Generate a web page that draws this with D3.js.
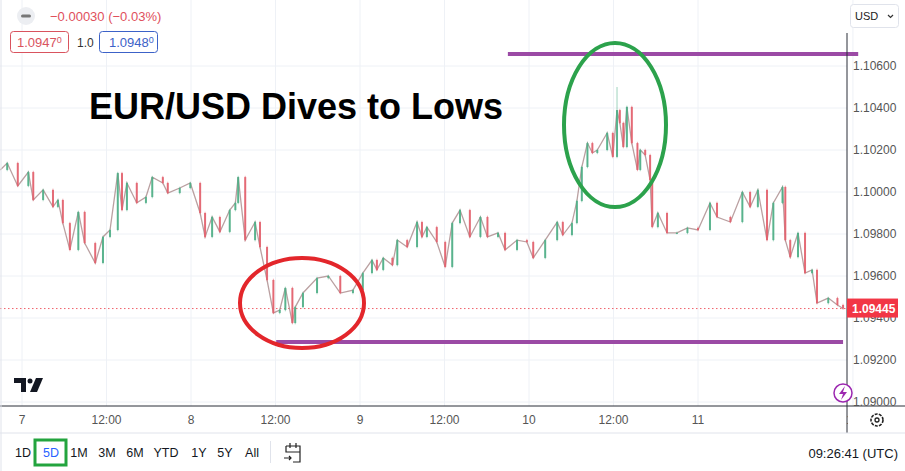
<!DOCTYPE html>
<html><head><meta charset="utf-8">
<script src="https://cdn.jsdelivr.net/npm/d3@7/dist/d3.min.js"></script>
<style>body{margin:0;background:#fff}svg{display:block;font-family:"Liberation Sans",Arial,sans-serif}</style>
</head><body><svg id="c" width="905" height="471"></svg>
<script>
const hours=[-3.1,-2.1,-0.6,0.9,1.6,3.0,4.4,5.1,5.8,6.8,8.0,8.9,10.4,11.5,12.5,13.6,14.2,14.9,16.3,17.6,18.5,20.0,20.7,22.4,23.9,25.3,26.0,27.0,28.1,29.5,30.3,30.7,31.7,33.1,33.8,34.8,35.7,36.6,37.4,38.4,38.8,39.9,41.9,43.5,45.2,47.0,48.4,49.7,50.4,51.3,52.6,53.3,54.7,56.1,56.8,57.5,58.9,60.1,61.1,62.2,63.6,65.1,66.1,67.6,68.6,70.3,71.7,72.6,74.3,76.0,76.8,78.1,78.8,79.5,80.3,81.0,81.7,83.1,83.9,84.5,84.9,85.4,85.9,86.6,87.4,87.8,88.5,89.2,89.5,90.3,91.6,93.0,94.5,96.0,97.7,98.7,100.6,102.3,103.4,104.5,105.8,106.7,108.0,108.4,109.1,110.2,111.2,112.2,112.9,114.5,115.8,116.6];
const closes=[1.10105,1.10138,1.10029,1.10095,1.09962,1.10010,1.09929,1.09962,1.09852,1.09724,1.09905,1.09757,1.09662,1.09786,1.09819,1.10090,1.09914,1.10043,1.09948,1.09976,1.10071,1.10043,1.09995,1.10019,1.10043,1.09900,1.09786,1.09881,1.09810,1.09914,1.09948,1.10071,1.09771,1.09857,1.09738,1.09581,1.09424,1.09438,1.09543,1.09376,1.09452,1.09519,1.09590,1.09600,1.09519,1.09533,1.09614,1.09676,1.09629,1.09686,1.09652,1.09771,1.09738,1.09857,1.09786,1.09833,1.09762,1.09643,1.09852,1.09914,1.09786,1.09881,1.09786,1.09805,1.09724,1.09771,1.09762,1.09686,1.09771,1.09857,1.09795,1.09852,1.09957,1.10119,1.10233,1.10186,1.10200,1.10281,1.10167,1.10390,1.10329,1.10214,1.10405,1.10233,1.10105,1.10200,1.10176,1.10057,1.09833,1.09900,1.09805,1.09805,1.09829,1.09819,1.09948,1.09881,1.09857,1.10000,1.09929,1.10010,1.09771,1.09948,1.10024,1.09771,1.09690,1.09805,1.09614,1.09629,1.09471,1.09495,1.09462,1.09445];
const spikeHigh=1.10500, spikeHour=84.5;
const timeTicks=[0,12,24,36,48,60,72,84,96,118];
const timeLabels=["7","12:00","8","12:00","9","12:00","10","12:00","11","13"];
const priceTicks=[1.090,1.092,1.094,1.096,1.098,1.100,1.102,1.104,1.106];
const lastPrice=1.09445;
const resistance=1.10657, support=1.09286;
const ranges=["1D","5D","1M","3M","6M","YTD","1Y","5Y","All"];

const svg=d3.select("#c");
const W=847,B=406;
const x=d3.scaleLinear().domain([0,12]).range([22,106.5]);
const y=d3.scaleLinear().domain([1.090,1.106]).range([402,66]);

svg.append("g").selectAll("line").data(timeTicks.slice(0,9)).join("line")
 .attr("x1",d=>x(d)).attr("x2",d=>x(d)).attr("y1",0).attr("y2",B).attr("stroke","#eef1f6");
svg.append("g").selectAll("line").data(priceTicks).join("line")
 .attr("x1",0).attr("x2",W).attr("y1",d=>y(d)).attr("y2",d=>y(d)).attr("stroke","#eef1f6");
svg.append("line").attr("x1",x(timeTicks[9])).attr("x2",x(timeTicks[9])).attr("y1",0).attr("y2",B).attr("stroke","#eef1f6");

svg.append("line").attr("x1",0).attr("x2",W).attr("y1",y(lastPrice)).attr("y2",y(lastPrice))
 .attr("stroke","#f0616a").attr("stroke-dasharray","1.5,2.5");

const up="#4fae86",dn="#e2606d";
const g=svg.append("g");
g.append("path").datum(hours.map((h,i)=>[h,closes[i]])).attr("fill","none")
 .attr("stroke","#a9888a").attr("stroke-opacity",0.8).attr("stroke-width",1.3)
 .attr("d",d3.line().x(d=>x(d[0])).y(d=>y(d[1])));
hours.forEach((h,i)=>{
  if(i===0)return;
  const o=closes[i-1],c=closes[i];
  const col=c>=o?up:dn;
  let hi=Math.max(o,c)+0.00006,lo=Math.min(o,c)-0.00006;
  if(h===spikeHour) hi=spikeHigh;
  const cx=x(h);
  g.append("line").attr("x1",cx).attr("x2",cx).attr("y1",y(hi)).attr("y2",y(lo)).attr("stroke",col).attr("stroke-opacity",0.55);
  g.append("rect").attr("x",cx-1).attr("width",2).attr("y",y(Math.max(o,c))).attr("height",Math.max(1,Math.abs(y(o)-y(c)))).attr("fill",col).attr("fill-opacity",0.9);
});

svg.append("line").attr("x1",x(69)).attr("x2",x(118.75)).attr("y1",y(resistance)).attr("y2",y(resistance)).attr("stroke","#9b4aa5").attr("stroke-width",4);
svg.append("line").attr("x1",x(36.1)).attr("x2",x(116.6)).attr("y1",y(support)).attr("y2",y(support)).attr("stroke","#9b4aa5").attr("stroke-width",4);
svg.append("ellipse").attr("cx",302).attr("cy",303).attr("rx",62).attr("ry",45).attr("fill","none").attr("stroke","#e3262b").attr("stroke-width",4);
svg.append("ellipse").attr("cx",615).attr("cy",125).attr("rx",51).attr("ry",82).attr("fill","none").attr("stroke","#2ca24c").attr("stroke-width",4);

svg.append("text").attr("x",89).attr("y",119).attr("font-size",36).attr("font-weight","bold").attr("fill","#000").text("EUR/USD Dives to Lows");

svg.append("line").attr("x1",0).attr("x2",905).attr("y1",B).attr("y2",B).attr("stroke","#2a2e39");
svg.append("line").attr("x1",W).attr("x2",W).attr("y1",33).attr("y2",433).attr("stroke","#2a2e39");
svg.append("line").attr("x1",0).attr("x2",905).attr("y1",433).attr("y2",433).attr("stroke","#e0e3eb");
svg.append("line").attr("x1",1).attr("x2",1).attr("y1",0).attr("y2",471).attr("stroke","#e0e3eb");

svg.append("g").selectAll("text").data(priceTicks).join("text")
 .attr("x",853).attr("y",d=>y(d)+4).attr("font-size",12).attr("fill","#555").text(d=>d.toFixed(5));
svg.append("rect").attr("x",847).attr("y",y(lastPrice)-10).attr("width",51).attr("height",19).attr("fill","#f23645");
svg.append("text").attr("x",852).attr("y",y(lastPrice)+4.5).attr("font-size",12).attr("font-weight","bold").attr("fill","#fff").text(lastPrice.toFixed(5));

svg.append("g").selectAll("text").data(timeTicks).join("text")
 .attr("x",d=>x(d)).attr("y",424).attr("text-anchor","middle").attr("font-size",12).attr("fill","#555").text((d,i)=>timeLabels[i]);
svg.append("rect").attr("x",848).attr("y",407).attr("width",57).attr("height",25).attr("fill","#fff");
svg.append("circle").attr("cx",877).attr("cy",420).attr("r",6).attr("fill","none").attr("stroke","#222").attr("stroke-width",1.6).attr("stroke-dasharray","3,1.2");
svg.append("circle").attr("cx",877).attr("cy",420).attr("r",2).attr("fill","none").attr("stroke","#222").attr("stroke-width",1.3);
svg.append("circle").attr("cx",843).attr("cy",393).attr("r",9).attr("fill","#fff").attr("stroke","#9c27b0").attr("stroke-width",1.5);
svg.append("path").attr("d","M845,386 L839,394 L843,394 L841,400 L847,392 L843,392 Z").attr("fill","#9c27b0");

svg.append("circle").attr("cx",26).attr("cy",16).attr("r",9).attr("fill","#eceef2");
svg.append("rect").attr("x",21).attr("y",14.5).attr("width",10).attr("height",3).attr("rx",1.5).attr("fill","#777");
svg.append("text").attr("x",50).attr("y",21).attr("font-size",13).attr("fill","#e0505c").text("−0.00030 (−0.03%)");
svg.append("rect").attr("x",10.5).attr("y",31.5).attr("width",58).attr("height",21).attr("rx",3).attr("fill","#fff").attr("stroke","#d9535e");
svg.append("text").attr("x",17).attr("y",47).attr("font-size",13).attr("fill","#d9535e").text("1.0947").append("tspan").attr("font-size",9).attr("dy",-4).text("0");
svg.append("text").attr("x",77).attr("y",47).attr("font-size",12).attr("fill","#333").text("1.0");
svg.append("rect").attr("x",99.5).attr("y",31.5).attr("width",58).attr("height",21).attr("rx",3).attr("fill","#fff").attr("stroke","#3c62c8");
svg.append("text").attr("x",109).attr("y",47).attr("font-size",13).attr("fill","#3c62c8").text("1.0948").append("tspan").attr("font-size",9).attr("dy",-4).text("0");
svg.append("rect").attr("x",850.5).attr("y",4.5).attr("width",48).attr("height",23).attr("rx",3).attr("fill","#fff").attr("stroke","#e0e3eb");
svg.append("text").attr("x",855).attr("y",20).attr("font-size",11).attr("fill","#222").text("USD");
svg.append("path").attr("d","M888,15 L890.5,17.5 L893,15").attr("fill","none").attr("stroke","#333").attr("stroke-width",1.2);

svg.append("path").attr("d","M14,378 H26 V392 H21 V383 H14 Z").attr("fill","#131722");
svg.append("circle").attr("cx",30).attr("cy",381).attr("r",2.5).attr("fill","#131722");
svg.append("path").attr("d","M36,378 H43 L37,392 H30 Z").attr("fill","#131722");

const rx=[23,51,79,107,135,166,199,225,252];
svg.append("g").selectAll("text").data(ranges).join("text")
 .attr("x",(d,i)=>rx[i]).attr("y",457).attr("text-anchor","middle").attr("font-size",12.5)
 .attr("fill",d=>d==="5D"?"#2962ff":"#131722").text(d=>d);
svg.append("rect").attr("x",35).attr("y",440).attr("width",31).attr("height",25).attr("fill","none").attr("stroke","#23a43e").attr("stroke-width",3);
svg.append("line").attr("x1",270.5).attr("x2",270.5).attr("y1",441).attr("y2",463).attr("stroke","#e0e3eb");
svg.append("path").attr("d","M286,446 H300 V462 H293 M286,446 V452 H300 M290,443 V448 M296,443 V448 M284,458 H291 M289,456 L291,458 L289,460").attr("fill","none").attr("stroke","#222").attr("stroke-width",1.2);
svg.append("text").attr("x",898).attr("y",458).attr("text-anchor","end").attr("font-size",13).attr("fill","#131722").text("09:26:41 (UTC)");
</script></body></html>
